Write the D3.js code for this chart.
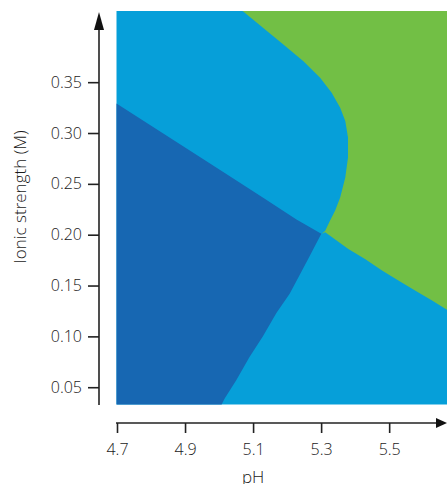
<!DOCTYPE html>
<html>
<head>
<meta charset="utf-8">
<script src="https://cdn.jsdelivr.net/npm/d3@7"></script>
<style>
  html, body { margin: 0; padding: 0; background: #fff; }
  svg { display: block; }
  text { font-family: "Open Sans", sans-serif; font-weight: 300; fill: #1a1a1a; }
</style>
</head>
<body>
<svg id="chart" width="447" height="484"></svg>
<script>
// ---- data (pH, ionic strength M) ----
const xTicks = [4.7, 4.9, 5.1, 5.3, 5.5];
const yTicks = [0.05, 0.10, 0.15, 0.20, 0.25, 0.30, 0.35];
const xDomain = [4.7, 5.67];
const yDomain = [0.033, 0.42];

// boundary dark-blue / light-blue (upper branch): left edge -> triple point
const boundaryDarkUpper = [
  [4.70, 0.329], [4.944, 0.2767], [5.032, 0.2578], [5.130, 0.2367], [5.229, 0.2150], [5.302, 0.201]
];
// boundary dark-blue / light-blue (lower branch): triple point -> bottom edge
const boundaryDarkLower = [
  [5.302, 0.201], [5.268, 0.1790], [5.238, 0.1600], [5.209, 0.1420], [5.170, 0.1230],
  [5.130, 0.1000], [5.091, 0.0798], [5.052, 0.0569], [5.018, 0.0389], [5.009, 0.033]
];
// boundary light-blue / green (lower branch): triple point -> right edge
const boundaryGreenLower = [
  [5.302, 0.201], [5.312, 0.2024], [5.380, 0.186], [5.429, 0.1762], [5.479, 0.1647],
  [5.527, 0.1549], [5.576, 0.1451], [5.626, 0.1353], [5.665, 0.1272], [5.67, 0.1262]
];
// boundary light-blue / green (upper branch): triple point -> top edge
const boundaryGreenUpper = [
  [5.302, 0.201], [5.312, 0.2039], [5.326, 0.2137], [5.341, 0.2235], [5.356, 0.2367],
  [5.371, 0.2563], [5.379, 0.2759], [5.379, 0.2955], [5.371, 0.3118], [5.356, 0.3249],
  [5.331, 0.3396], [5.297, 0.3543], [5.248, 0.3706], [5.189, 0.3870], [5.130, 0.4033],
  [5.071, 0.4196], [5.068, 0.420]
];

const colors = { dark: "#1767b2", light: "#069fd9", green: "#72bf45" };

// ---- layout ----
const svg = d3.select("#chart");
const x = d3.scaleLinear().domain(xDomain).range([117, 447]);
const y = d3.scaleLinear().domain(yDomain).range([404.5, 11]);

const line = d3.line().x(d => x(d[0])).y(d => y(d[1]));

// light-blue region (background of the plot)
svg.append("rect")
  .attr("x", x(xDomain[0]) - 0.5).attr("y", y(yDomain[1]))
  .attr("width", x(xDomain[1]) - x(xDomain[0]) + 0.5)
  .attr("height", y(yDomain[0]) - y(yDomain[1]))
  .attr("fill", colors.light);

// dark-blue region
const darkPoly = [[xDomain[0], yDomain[0]]]
  .concat(boundaryDarkUpper)
  .concat(boundaryDarkLower.slice(1));
svg.append("path")
  .attr("d", line(darkPoly) + "Z")
  .attr("transform", "translate(-0.5,0)")
  .attr("fill", colors.dark);

// green region
const greenPoly = boundaryGreenUpper.slice().reverse()
  .concat(boundaryGreenLower.slice(1))
  .concat([[xDomain[1], yDomain[1]]]);
svg.append("path")
  .attr("d", line(greenPoly) + "Z")
  .attr("fill", colors.green);

// ---- axes ----
const axisColor = "#222";
const textColor = "#1a1a1a";

// y axis
const yAxisX = 99;
const yAxis = svg.append("g")
  .attr("transform", `translate(${yAxisX},0)`)
  .call(d3.axisLeft(y).tickValues(yTicks).tickFormat(d3.format(".2f")).tickSize(11).tickPadding(6));
yAxis.select(".domain").remove();
yAxis.selectAll(".tick line").attr("stroke", axisColor).attr("stroke-width", 1.6);
yAxis.selectAll(".tick text").attr("font-size", 16).attr("fill", textColor)
  .attr("font-family", "'Open Sans', sans-serif").attr("font-weight", 300);
svg.append("line")
  .attr("x1", yAxisX).attr("x2", yAxisX).attr("y1", 405).attr("y2", 24)
  .attr("stroke", axisColor).attr("stroke-width", 1.6);
svg.append("path")
  .attr("d", `M${yAxisX},12 L${yAxisX - 5},30 L${yAxisX + 5},30 Z`)
  .attr("fill", "#111");

// x axis
const xAxisY = 423;
const xAxis = svg.append("g")
  .attr("transform", `translate(0,${xAxisY})`)
  .call(d3.axisBottom(x).tickValues(xTicks).tickFormat(d3.format(".1f")).tickSize(10).tickPadding(11));
xAxis.select(".domain").remove();
xAxis.selectAll(".tick line").attr("stroke", axisColor).attr("stroke-width", 1.6);
xAxis.selectAll(".tick text").attr("font-size", 16).attr("fill", textColor)
  .attr("font-family", "'Open Sans', sans-serif").attr("font-weight", 300);
svg.append("line")
  .attr("x1", 116).attr("x2", 438).attr("y1", xAxisY).attr("y2", xAxisY)
  .attr("stroke", axisColor).attr("stroke-width", 1.6);
svg.append("path")
  .attr("d", `M447,${xAxisY} L436,${xAxisY - 5} L436,${xAxisY + 5} Z`)
  .attr("fill", "#111");

// axis titles
svg.append("text")
  .attr("x", x(5.1)).attr("y", 483)
  .attr("text-anchor", "middle")
  .attr("font-size", 17)
  .text("pH");

svg.append("text")
  .attr("transform", "translate(26,197) rotate(-90)")
  .attr("text-anchor", "middle")
  .attr("font-size", 17)
  .text("Ionic strength (M)");
</script>
</body>
</html>
